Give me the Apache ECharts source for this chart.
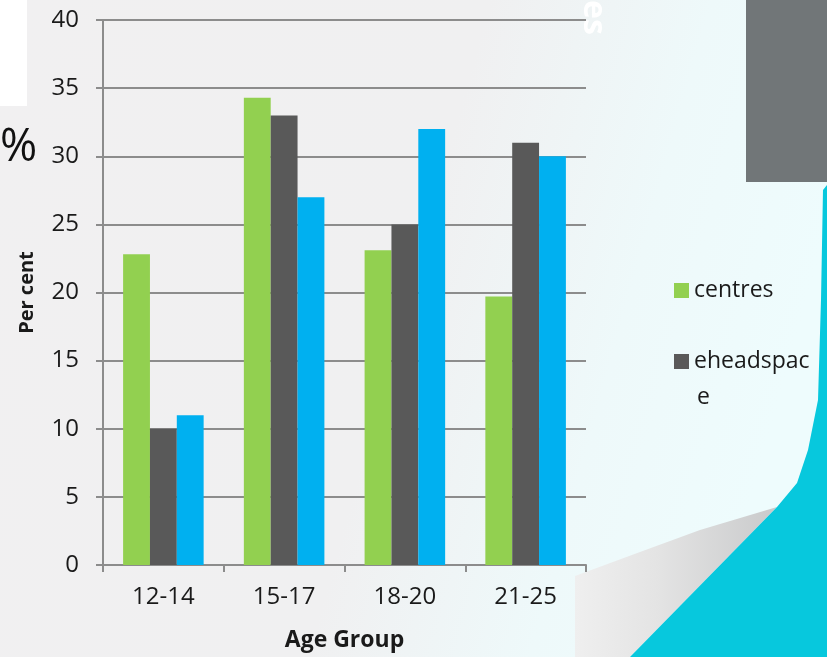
<!DOCTYPE html>
<html>
<head>
<meta charset="utf-8">
<script src="https://cdn.jsdelivr.net/npm/echarts@6/dist/echarts.min.js"></script>
<style>
html,body{margin:0;padding:0;background:#f0f0f0;}
#chart{width:827px;height:657px;}
</style>
</head>
<body>
<div id="chart"></div>
<script>
var categories = ['12-14', '15-17', '18-20', '21-25'];
var centres = [22.8, 34.3, 23.1, 19.7];
var eheadspace = [10, 33, 25, 31];
var thirdSeries = [11, 27, 32, 30];
var yTicks = [0, 5, 10, 15, 20, 25, 30, 35, 40];

var FONT = 'Open Sans';
var TXT = '#1a1a1a';
var chart = echarts.init(document.getElementById('chart'), null, {renderer: 'canvas'});
chart.setOption({
  backgroundColor: {
    type: 'linear', x: 0, y: 0, x2: 1, y2: 0.35,
    colorStops: [
      {offset: 0, color: '#f1f0f1'},
      {offset: 0.55, color: '#f0f0f1'},
      {offset: 0.8, color: '#eef9fa'},
      {offset: 1, color: '#eefcfd'}
    ]
  },
  animation: false,
  graphic: [
    {type: 'rect', z: -10, shape: {x: 0, y: 0, width: 27, height: 106}, style: {fill: '#ffffff'}},
    {type: 'rect', z: -10, shape: {x: 746, y: 0, width: 81, height: 182}, style: {fill: '#717678'}},
    {type: 'polygon', z: -10, shape: {points: [[575, 576], [640, 552], [700, 530], [777, 507], [630, 657], [575, 657]]},
      style: {fill: {type: 'linear', x: 0, y: 0, x2: 1, y2: 0, colorStops: [{offset: 0, color: '#efefef'}, {offset: 0.4, color: '#e4e4e4'}, {offset: 1, color: '#c9cacb'}]}}},
    {type: 'polygon', z: -10, shape: {points: [[827, 185], [823, 190], [821, 300], [818, 400], [808, 450], [797, 483], [777, 507], [630, 657], [827, 657]]},
      style: {fill: '#07c8dd'}},
    {type: 'text', z: -5, left: 0, top: 126, style: {text: '%', font: '45px "Open Sans"', fill: '#111'}},
    {type: 'text', z: -5, x: 609, y: 0, rotation: -Math.PI / 2, style: {text: 'es', font: 'bold 32px "Open Sans"', fill: '#ffffff'}},
    {type: 'text', z: 5, left: 697, top: 386, style: {text: 'e', font: '23px "Open Sans"', fill: TXT}}
  ],
  color: ['#92d050', '#595959', '#00b0f0'],
  grid: {left: 103, right: 241, top: 20, bottom: 89, containLabel: false},
  legend: [
    {
      data: ['centres'], orient: 'vertical', left: 674, top: 279, padding: 0,
      itemWidth: 15, itemHeight: 15, icon: 'rect', itemGap: 8,
      textStyle: {fontFamily: FONT, fontSize: 23, color: TXT}
    },
    {
      data: ['eheadspace'], orient: 'vertical', left: 674, top: 350, padding: 0,
      itemWidth: 15, itemHeight: 15, icon: 'rect', itemGap: 8,
      formatter: function () { return 'eheadspac'; },
      textStyle: {fontFamily: FONT, fontSize: 23, color: TXT}
    }
  ],
  xAxis: {
    type: 'category', data: categories,
    name: 'Age Group', nameLocation: 'middle', nameGap: 64,
    nameTextStyle: {fontFamily: FONT, fontSize: 23, fontWeight: 'bold', color: TXT},
    axisLine: {lineStyle: {color: '#8c8c8c', width: 2}},
    axisTick: {show: true, length: 7, lineStyle: {color: '#8c8c8c', width: 2}},
    axisLabel: {fontFamily: FONT, fontSize: 24, color: TXT, margin: 20}
  },
  yAxis: {
    type: 'value', min: 0, max: 40, interval: 5,
    name: 'Per cent', nameLocation: 'middle', nameGap: 66, nameRotate: 90,
    nameTextStyle: {fontFamily: FONT, fontSize: 20, fontWeight: 'bold', color: TXT},
    axisLine: {show: true, lineStyle: {color: '#8c8c8c', width: 2}},
    axisTick: {show: true, length: 7, lineStyle: {color: '#8c8c8c', width: 2}},
    splitLine: {lineStyle: {color: '#8c8c8c', width: 2}},
    axisLabel: {fontFamily: FONT, fontSize: 24, color: TXT, margin: 24,
      formatter: function (v) { return yTicks.indexOf(v) >= 0 ? String(v) : ''; }}
  },
  series: [
    {name: 'centres', type: 'bar', data: centres, barGap: '0%', barCategoryGap: '33.3%'},
    {name: 'eheadspace', type: 'bar', data: eheadspace, barGap: '0%', barCategoryGap: '33.3%'},
    {name: 'other', type: 'bar', data: thirdSeries, barGap: '0%', barCategoryGap: '33.3%'}
  ]
});
</script>
</body>
</html>
